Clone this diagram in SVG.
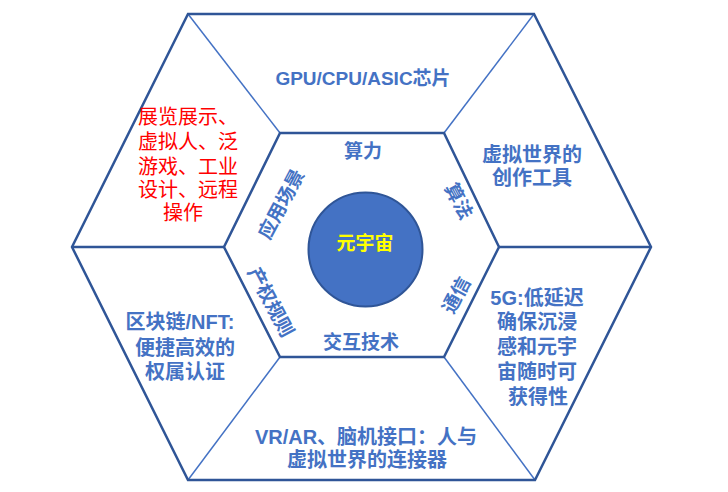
<svg xmlns="http://www.w3.org/2000/svg" width="728" height="492" viewBox="0 0 728 492">
<style>
.edge{fill:none;stroke:#2F5597;stroke-width:2.5;stroke-linejoin:miter}
.spoke{fill:none;stroke:#4472C4;stroke-width:1.5}
.spokeh{fill:none;stroke:#2F5597;stroke-width:2.5}
text{font-family:"Liberation Sans","Noto Sans CJK SC",sans-serif;text-anchor:middle}
.lbl{fill:#4472C4;font-size:20px;font-weight:bold}
.in{fill:#4472C4;font-size:19px;font-weight:bold}
.red{fill:#FF0000;font-size:20px}
</style>
<rect width="728" height="492" fill="#FFFFFF"/>
<g id="connectors">
<line class="spoke" x1="188" y1="14" x2="280" y2="133"/>
<line class="spoke" x1="534" y1="14" x2="444" y2="133"/>
<line class="spokeh" x1="651" y1="247" x2="499" y2="247"/>
<line class="spokeh" x1="72" y1="247" x2="224" y2="247"/>
<line class="spoke" x1="280" y1="357" x2="188" y2="480"/>
<line class="spoke" x1="444" y1="357" x2="535" y2="480"/>
</g>
<g id="outer-hexagon">
<polygon class="edge" points="188,14 534,14 651,247 535,480 188,480 72,247"/>
</g>
<g id="inner-hexagon">
<polygon class="edge" points="280,133 444,133 499,247 444,357 280,357 224,247"/>
</g>
<g id="core">
<circle cx="365.5" cy="249.5" r="57" fill="#4472C4" stroke="#2F5597" stroke-width="2"/>
<text x="365" y="250" font-size="19" font-weight="bold" fill="#FFFF00">元宇宙</text>
</g>
<g id="label-compute"><text class="in" x="363" y="158">算力</text></g>
<g id="label-interaction"><text class="in" x="361" y="349">交互技术</text></g>
<g id="label-scenario"><text class="in" transform="translate(281,204) rotate(-62)" x="0" y="7">应用场景</text></g>
<g id="label-algorithm"><text class="in" transform="translate(459,201) rotate(62)" x="0" y="7">算法</text></g>
<g id="label-comm"><text class="in" transform="translate(456,295) rotate(-62)" x="0" y="7">通信</text></g>
<g id="label-property"><text class="in" transform="translate(271,302) rotate(62)" x="0" y="7">产权规则</text></g>
<g id="node-chip"><text class="lbl" x="363" y="85" style="font-size:19px">GPU/CPU/ASIC芯片</text></g>
<g id="node-tools">
<text class="lbl" x="532" y="162">虚拟世界的</text>
<text class="lbl" x="532" y="185">创作工具</text>
</g>
<g id="node-5g">
<text class="lbl" x="537" y="305">5G:低延迟</text>
<text class="lbl" x="537" y="329">确保沉浸</text>
<text class="lbl" x="537" y="354">感和元宇</text>
<text class="lbl" x="537" y="379">宙随时可</text>
<text class="lbl" x="538" y="404">获得性</text>
</g>
<g id="node-vr">
<text class="lbl" x="366" y="444">VR/AR、脑机接口：人与</text>
<text class="lbl" x="367" y="467">虚拟世界的连接器</text>
</g>
<g id="node-blockchain">
<text class="lbl" x="180" y="329">区块链/NFT:</text>
<text class="lbl" x="185" y="355">便捷高效的</text>
<text class="lbl" x="185" y="379">权属认证</text>
</g>
<g id="node-apps">
<text class="red" x="188" y="124">展览展示、</text>
<text class="red" x="188" y="149">虚拟人、泛</text>
<text class="red" x="188" y="174">游戏、工业</text>
<text class="red" x="188" y="197">设计、远程</text>
<text class="red" x="183" y="220">操作</text>
</g>
</svg>
